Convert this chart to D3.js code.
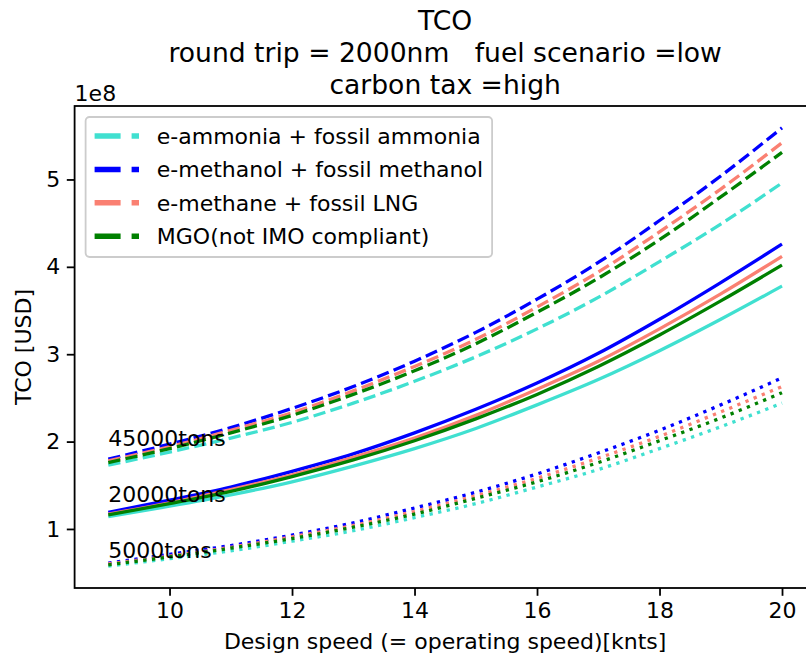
<!DOCTYPE html>
<html>
<head>
<meta charset="utf-8">
<script src="https://cdn.jsdelivr.net/npm/d3@7"></script>
<style>
  body { margin: 0; background: #fff; }
  svg text { font-family: "DejaVu Sans", sans-serif; fill: #000; }
</style>
</head>
<body>
<div id="main"></div>
<script>
// design speeds (knots)
const speeds = [9, 10, 11, 12, 13, 14, 15, 16, 17, 18, 19, 20];

// TCO values in 1e8 USD
// 45000 tons (dashed)
const ammonia45 = [1.73, 1.88, 2.04, 2.22, 2.44, 2.69, 2.97, 3.29, 3.65, 4.06, 4.49, 4.96];
const methanol45 = [1.80, 1.97, 2.16, 2.38, 2.63, 2.92, 3.25, 3.63, 4.05, 4.53, 5.04, 5.59];
const methane45 = [1.78, 1.94, 2.13, 2.33, 2.58, 2.86, 3.17, 3.54, 3.94, 4.40, 4.89, 5.42];
const mgo45 = [1.76, 1.92, 2.10, 2.30, 2.54, 2.81, 3.12, 3.48, 3.87, 4.31, 4.80, 5.31];
// 20000 tons (solid)
const ammonia20 = [1.14, 1.26, 1.39, 1.54, 1.72, 1.92, 2.15, 2.42, 2.71, 3.04, 3.40, 3.78];
const methanol20 = [1.19, 1.33, 1.48, 1.66, 1.86, 2.10, 2.37, 2.67, 3.01, 3.40, 3.82, 4.26];
const methane20 = [1.17, 1.30, 1.45, 1.62, 1.82, 2.04, 2.30, 2.60, 2.92, 3.29, 3.69, 4.12];
const mgo20 = [1.16, 1.29, 1.43, 1.60, 1.79, 2.01, 2.26, 2.54, 2.86, 3.22, 3.61, 4.02];
// 5000 tons (dotted)
const ammonia5 = [0.575, 0.66, 0.75, 0.86, 0.98, 1.13, 1.29, 1.48, 1.68, 1.92, 2.17, 2.44];
const methanol5 = [0.61, 0.71, 0.81, 0.93, 1.07, 1.24, 1.42, 1.63, 1.87, 2.13, 2.42, 2.73];
const methane5 = [0.60, 0.69, 0.79, 0.91, 1.04, 1.20, 1.38, 1.58, 1.81, 2.06, 2.34, 2.63];
const mgo5 = [0.59, 0.68, 0.78, 0.89, 1.02, 1.17, 1.35, 1.54, 1.76, 2.01, 2.27, 2.56];

const fuels = ["e-ammonia + fossil ammonia", "e-methanol + fossil methanol",
    "e-methane + fossil LNG", "MGO(not IMO compliant)"];
const colors = ["#40e0d0", "#0000ff", "#fa8072", "#008000"];
const sizes = ["45000tons", "20000tons", "5000tons"];
const sizeLabelY = [1.95, 1.31, 0.67];

const seriesByFuel = [
    [ammonia45, ammonia20, ammonia5],
    [methanol45, methanol20, methanol5],
    [methane45, methane20, methane5],
    [mgo45, mgo20, mgo5]
];
const dashes = ["12.3,5.3", null, "3.3,5.5"];

const yTicks = [1, 2, 3, 4, 5];
const xTicks = [10, 12, 14, 16, 18, 20];

// layout
const W = 806, H = 658;
const margin = {top: 106, left: 74.6, bottom: 70, right: -9.7};
const width = W - margin.left - margin.right;
const height = H - margin.top - margin.bottom;

const svg = d3.select('#main').append('svg')
    .attr('width', W)
    .attr('height', H);

// matplotlib-style 5% margins
const allVals = seriesByFuel.flat(2);
const yMin = d3.min(allVals), yMax = d3.max(allVals);
const yPad = (yMax - yMin) * 0.05;
const xPad = (d3.max(speeds) - d3.min(speeds)) * 0.05;

const x = d3.scaleLinear()
    .domain([d3.min(speeds) - xPad, d3.max(speeds) + xPad])
    .range([0, width]);
const y = d3.scaleLinear()
    .domain([yMin - yPad, yMax + yPad])
    .range([height, 0]);

const g = svg.append('g')
    .attr('transform', 'translate(' + margin.left + ',' + margin.top + ')');

const line = d3.line()
    .x(function (d, i) { return x(speeds[i]); })
    .y(function (d) { return y(d); })
    .curve(d3.curveMonotoneX);

seriesByFuel.forEach(function (group, f) {
    group.forEach(function (vals, s) {
        g.append('path')
            .datum(vals)
            .attr('d', line)
            .attr('fill', 'none')
            .attr('stroke', colors[f])
            .attr('stroke-width', 3.3)
            .attr('stroke-dasharray', dashes[s]);
    });
});

// size labels
sizes.forEach(function (s, i) {
    g.append('text')
        .attr('x', x(9))
        .attr('y', y(sizeLabelY[i]))
        .style('font-size', '22px')
        .text(s);
});

// axes
const xAxis = d3.axisBottom(x).tickValues(xTicks).tickSize(7.8).tickPadding(6.5)
    .tickFormat(d3.format('d'));
const yAxis = d3.axisLeft(y).tickValues(yTicks).tickSize(7.8).tickPadding(6.5)
    .tickFormat(d3.format('d'));

const gx = g.append('g')
    .attr('transform', 'translate(0,' + height + ')')
    .call(xAxis);
const gy = g.append('g').call(yAxis);

[gx, gy].forEach(function (a) {
    a.selectAll('.domain').remove();
    a.selectAll('line').attr('stroke', '#000').attr('stroke-width', 1.8);
    a.selectAll('text').style('font-size', '22px').attr('fill', '#000')
        .style('font-family', '"DejaVu Sans", sans-serif');
});

// spines
g.append('rect')
    .attr('x', 0).attr('y', 0)
    .attr('width', width).attr('height', height)
    .attr('fill', 'none')
    .attr('stroke', '#000')
    .attr('stroke-width', 1.8);

// legend
const leg = g.append('g').attr('transform', 'translate(11,11)');
const legBox = leg.append('rect')
    .attr('rx', 4)
    .attr('fill', '#fff')
    .attr('fill-opacity', 0.8)
    .attr('stroke', '#cccccc')
    .attr('stroke-width', 1.8);

let maxText = 0;
fuels.forEach(function (name, i) {
    const cy = 19 + i * 33.4;
    leg.append('line')
        .attr('x1', 9).attr('x2', 53.4)
        .attr('y1', cy).attr('y2', cy)
        .attr('stroke', colors[i])
        .attr('stroke-width', 5.5)
        .attr('stroke-dasharray', '26,11');
    const t = leg.append('text')
        .attr('x', 71.2)
        .attr('y', cy + 8)
        .style('font-size', '22px')
        .text(name);
    maxText = Math.max(maxText, t.node().getComputedTextLength());
});
legBox.attr('x', 0).attr('y', 0)
    .attr('width', 71.2 + maxText + 9)
    .attr('height', 140);

// labels
svg.append('text')
    .attr('x', margin.left + width / 2)
    .attr('y', 649)
    .attr('text-anchor', 'middle')
    .style('font-size', '22px')
    .text('Design speed (= operating speed)[knts]');

svg.append('text')
    .attr('transform', 'translate(31,' + (margin.top + height / 2) + ') rotate(-90)')
    .attr('text-anchor', 'middle')
    .style('font-size', '22px')
    .text('TCO [USD]');

svg.append('text')
    .attr('x', margin.left)
    .attr('y', 101)
    .style('font-size', '22px')
    .text('1e8');

const titleLines = ['TCO', 'round trip = 2000nm   fuel scenario =low', 'carbon tax =high'];
titleLines.forEach(function (t, i) {
    svg.append('text')
        .attr('x', margin.left + width / 2)
        .attr('y', 30 + i * 32)
        .attr('text-anchor', 'middle')
        .style('font-size', '26.6px')
        .style('white-space', 'pre')
        .text(t);
});
</script>
</body>
</html>
